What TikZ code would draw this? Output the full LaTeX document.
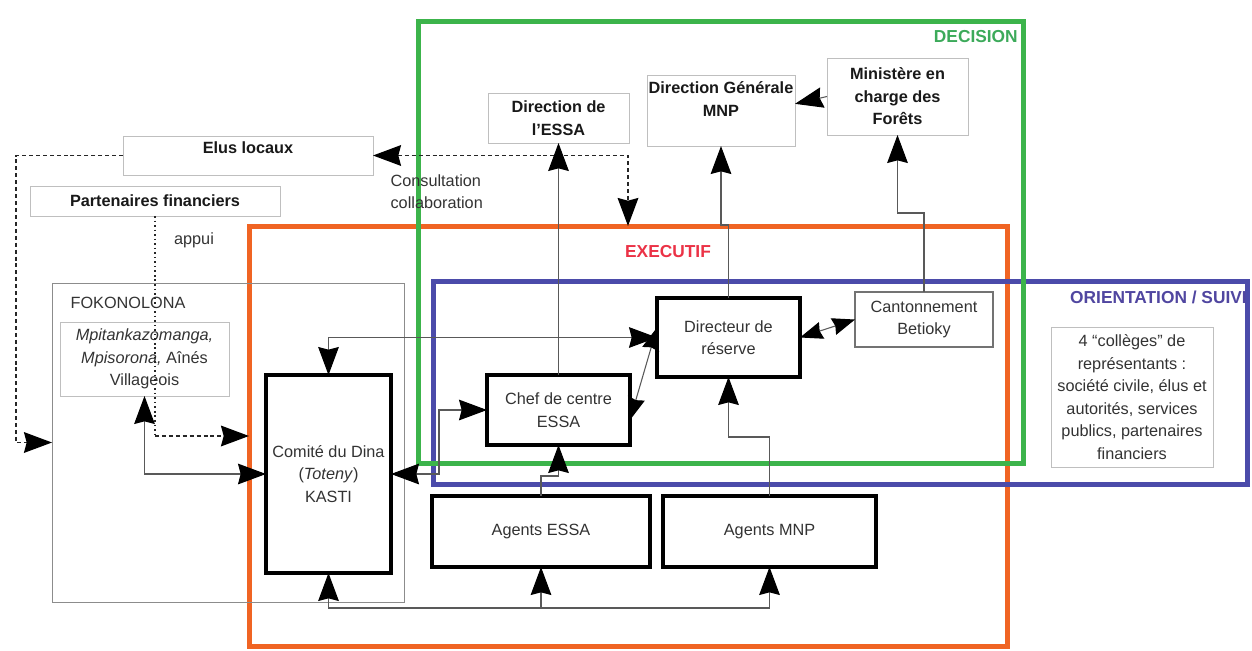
\documentclass[tikz,border=0pt]{standalone}
\usepackage{fontspec}
\setmainfont{Liberation Sans}
\usepackage{xcolor}
\usepackage{tikz}
\usetikzlibrary{arrows.meta, positioning, shapes}

\definecolor{decgreen}{RGB}{60,180,75}
\definecolor{exeorange}{RGB}{240,100,35}
\definecolor{oriblue}{RGB}{75,75,170}
\definecolor{decgreentext}{RGB}{60,170,90}
\definecolor{exered}{RGB}{235,50,70}
\definecolor{oritext}{RGB}{80,70,160}

\tikzset{
  txt/.style={font=\fontsize{12.2}{16.9}\selectfont, align=center, text=black!80, inner sep=1pt},
  boldtxt/.style={font=\fontsize{12.2}{16.9}\selectfont\bfseries, align=center, text=black!90, inner sep=1pt},
  heading/.style={font=\fontsize{13}{15}\selectfont\bfseries, inner sep=0pt},
  frame/.style={draw, line width=3.75pt, inner sep=0pt, outer sep=0pt},
  softbox/.style={draw=black!25, line width=0.75pt, fill=white, outer sep=0pt},
  graybox/.style={draw=black!55, line width=1.5pt, fill=white, outer sep=0pt},
  strongbox/.style={draw=black, line width=2.4pt, fill=white, outer sep=0pt},
  link/.style={draw=black!65, line width=0.8pt},
  dashlink/.style={draw=black!85, line width=1.3pt, dash pattern=on 3pt off 2.2pt},
  dotlink/.style={draw=black!85, line width=1.5pt, dash pattern=on 1.2pt off 2.2pt},
  smalltips/.style={>={Stealth[length=17pt,width=13pt,inset=1.5pt,color=black]}}
}

\begin{document}
\begin{tikzpicture}[x=0.75pt,y=0.75pt,yscale=-1,xscale=1,
    >={Stealth[length=21pt,width=15.5pt,inset=2pt,color=black]}]
\useasboundingbox (0,0) rectangle (1252,650);

% cadres
\node [frame, draw=exeorange, minimum width=568.5pt, minimum height=315pt] (executif) at (628,436) {};
\node [frame, draw=oriblue, minimum width=610.5pt, minimum height=152.25pt] (orientation) at (840,382.5) {};
\node [frame, draw=decgreen, minimum width=453.75pt, minimum height=331.5pt] (decision) at (720.5,242) {};

\node [heading, text=decgreentext, anchor=east] (decisionlabel) at (1018,37) {DECISION};
\node [heading, text=exered] (executiflabel) at (668,252) {EXECUTIF};
\node [heading, text=oritext, anchor=east] (orientationlabel) at (1247,297) {ORIENTATION / SUIVI};

% boites
\node [softbox, boldtxt, minimum width=105.75pt, minimum height=37.5pt] (diressa) at (558.5,118) {Direction de\\l'ESSA};
\node [softbox, minimum width=111pt, minimum height=53.25pt] (dgmnp) at (721,110.5) {};
\node [boldtxt] (dgmnptext) at (721,99) {Direction Générale\\MNP};
\node [softbox, boldtxt, minimum width=105.75pt, minimum height=57.75pt] (ministere) at (897.5,96.5) {Ministère en\\charge des\\Forêts};
\node [softbox, minimum width=187.5pt, minimum height=29.25pt] (elus) at (248,155.5) {};
\node [boldtxt] (elustext) at (248,148) {Elus locaux};
\node [softbox, boldtxt, minimum width=187.5pt, minimum height=22.5pt] (partenaires) at (155,201) {Partenaires financiers};

\node [draw=black!45, line width=0.75pt, minimum width=264pt, minimum height=239.25pt, outer sep=0pt] (fokonolona) at (228,442.5) {};
\node [txt, anchor=west] (fokonolonalabel) at (69,303) {FOKONOLONA};
\node [softbox, txt, minimum width=126.75pt, minimum height=55.5pt] (mpitank) at (144.5,359) {\textit{Mpitankazomanga,}\\\textit{Mpisorona,} Aînés\\Villageois};

\node [strongbox, txt, minimum width=93.75pt, minimum height=148.5pt] (comite) at (328.5,474) {Comité du Dina\\(\textit{Toteny})\\KASTI};
\node [strongbox, txt, minimum width=107.25pt, minimum height=52.5pt] (chef) at (558.5,410) {Chef de centre\\ESSA};
\node [strongbox, txt, minimum width=107.25pt, minimum height=59.25pt] (directeur) at (728.5,337.5) {Directeur de\\réserve};
\node [graybox, txt, minimum width=103.5pt, minimum height=41.25pt] (cantonnement) at (924,319.5) {Cantonnement\\Betioky};
\node [strongbox, txt, minimum width=163.5pt, minimum height=53.25pt] (agentsessa) at (541,531.5) {Agents ESSA};
\node [strongbox, txt, minimum width=159.75pt, minimum height=53.25pt] (agentsmnp) at (769.5,531.5) {Agents MNP};
\node [softbox, txt, minimum width=121.5pt, minimum height=105pt] (colleges) at (1132,397) {4 “collèges” de\\représentants :\\société civile, élus et\\autorités, services\\publics, partenaires\\financiers};

\node [txt, anchor=west, align=left] (consultation) at (389,191.5) {Consultation\\collaboration};
\node [txt] (appui) at (194,240) {appui};

% liaisons
\coordinate (eluscorner) at (16,155.5);
\coordinate (consultcorner) at (628,155.5);
\coordinate (appuicorner) at (155,436);
\coordinate (chefcorner) at (439,474);
\coordinate (dgcorner) at (728.5,225);
\coordinate (mincorner) at (924,213);
\coordinate (essacorner) at (541,476);
\coordinate (mnpcorner) at (769.5,437);
\coordinate (basecorner) at (328.5,608);

\draw [dashlink, ->] (elus.west) -- (eluscorner) |- (fokonolona.west);
\draw [dashlink, <->] (elus.east) -- (consultcorner) -- (consultcorner |- executif.north);
\draw [dotlink] (partenaires.south) -- (appuicorner);
\draw [dashlink, ->] (appuicorner) -- (appuicorner -| executif.west);

\draw [link, <->] (mpitank.south) |- (comite.west);
\draw [link, <->] (comite.north) |- (directeur.west);
\draw [link, <->] (comite.east) -- (chefcorner) |- (chef.west);
\draw [link, smalltips, <->] ([yshift=7.5pt]chef.east) -- ([yshift=-7.5pt]directeur.west);
\draw [link, smalltips, <->] (directeur.east) -- (cantonnement.west);

\draw [link, ->] (chef.north) -- (diressa.south);
\draw [link, ->] (directeur.north) -- (dgcorner) -| (dgmnp.south);
\draw [link, ->] (cantonnement.north) -- (mincorner) -| (ministere.south);
\draw [link, ->] (ministere.west) -- ([yshift=-5pt]dgmnp.east);

\draw [link, ->] (agentsessa.north) -- (essacorner) -| (chef.south);
\draw [link, ->] (agentsmnp.north) -- (mnpcorner) -| (directeur.south);
\draw [link, <->] (comite.south) -- (basecorner) -| (agentsmnp.south);
\draw [link, ->] (basecorner -| agentsessa.south) -- (agentsessa.south);
\end{tikzpicture}
\end{document}
